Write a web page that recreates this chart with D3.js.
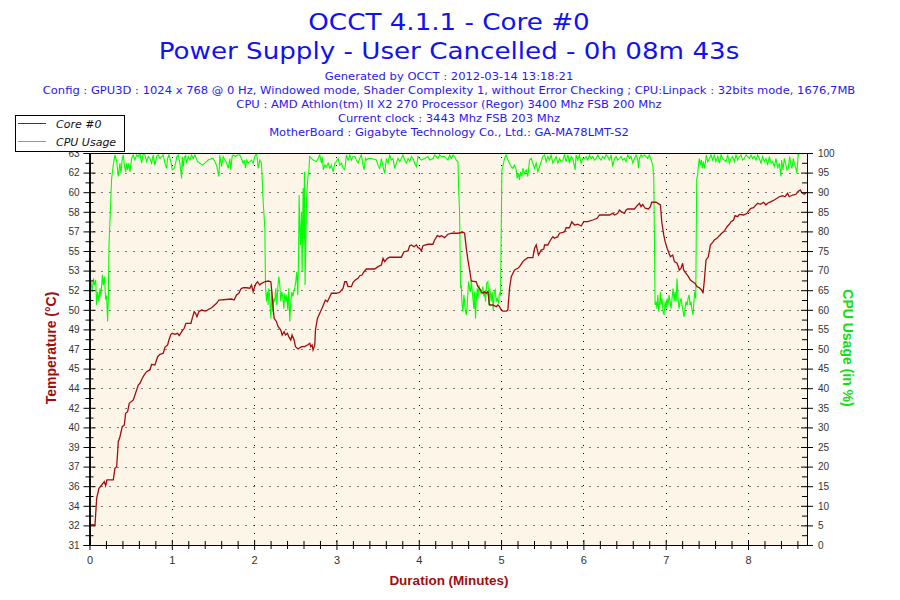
<!DOCTYPE html>
<html>
<head>
<meta charset="utf-8">
<script src="https://cdn.jsdelivr.net/npm/d3@7"></script>
<style>
  html, body { margin: 0; padding: 0; background: #ffffff; }
  svg { display: block; }
</style>
</head>
<body>
<svg id="chart" width="900" height="600"></svg>
<script>
// ---------------- DATA ----------------
const titleLines = ["OCCT 4.1.1 - Core #0", "Power Supply - User Cancelled - 0h 08m 43s"];
const infoLines = [
  "Generated by OCCT : 2012-03-14 13:18:21",
  "Config : GPU3D : 1024 x 768 @ 0 Hz, Windowed mode, Shader Complexity 1, without Error Checking ; CPU:Linpack : 32bits mode, 1676,7MB",
  "CPU : AMD Athlon(tm) II X2 270 Processor (Regor) 3400 Mhz FSB 200 Mhz",
  "Current clock : 3443 Mhz FSB 203 Mhz",
  "MotherBoard : Gigabyte Technology Co., Ltd.: GA-MA78LMT-S2"
];
const seriesNames = ["Core #0", "CPU Usage"];
const durationMinutes = 8.7167; // 0h 08m 43s
const xTickValues = [0, 1, 2, 3, 4, 5, 6, 7, 8];
const tempDomain = [31, 63];
const tempTickLabels = ["31","32","34","36","37","39","40","42","44","45","47","49","50","52","53","55","57","58","60","62","63"];
const cpuTickValues = [0,5,10,15,20,25,30,35,40,45,50,55,60,65,70,75,80,85,90,95,100];

// Core #0 temperature: [minutes, °C]
const coreTemp = [
[0.006,32.69],[0.067,32.63],[0.087,34.81],[0.115,35.63],[0.148,35.90],[0.180,36.17],[0.196,35.84],[0.212,36.31],[0.289,36.31],[0.309,37.26],[0.330,37.39],[0.350,39.43],[0.370,39.84],[0.398,40.66],[0.423,40.80],[0.439,41.75],[0.463,41.88],[0.483,42.57],[0.532,42.84],[0.552,43.24],[0.593,44.06],[0.613,44.20],[0.641,44.61],[0.665,44.88],[0.694,45.15],[0.734,45.29],[0.755,45.75],[0.795,45.69],[0.828,46.37],[0.856,46.56],[0.896,46.65],[0.916,47.14],[0.949,47.33],[0.965,47.73],[0.989,48.20],[1.005,48.28],[1.038,48.20],[1.070,48.28],[1.090,48.09],[1.119,48.41],[1.151,48.69],[1.171,49.10],[1.232,49.10],[1.248,49.50],[1.272,50.05],[1.289,49.91],[1.305,49.64],[1.329,50.05],[1.361,50.18],[1.410,50.10],[1.483,50.37],[1.544,50.73],[1.572,51.00],[1.725,51.08],[1.757,51.00],[1.786,51.41],[1.814,51.55],[1.839,51.90],[1.866,52.00],[1.908,52.00],[1.948,51.96],[1.968,52.22],[1.988,51.68],[2.017,52.28],[2.041,52.49],[2.069,52.22],[2.090,52.36],[2.130,52.49],[2.170,52.55],
[2.203,52.49],[2.219,51.41],[2.231,50.32],[2.243,49.50],[2.272,49.23],[2.292,48.82],[2.324,48.55],[2.340,48.14],[2.364,48.41],[2.381,48.14],[2.405,48.28],[2.421,48.01],[2.445,47.73],[2.461,48.14],[2.486,47.73],[2.502,47.19],[2.534,47.00],[2.575,47.19],[2.615,47.19],[2.648,47.33],[2.676,47.46],[2.688,47.19],[2.704,47.33],[2.716,46.92],[2.737,47.33],[2.745,48.55],[2.769,49.50],[2.797,49.91],[2.825,50.32],[2.850,50.73],[2.866,51.00],[2.890,50.86],[2.919,51.27],[2.939,51.55],[3.000,51.55],[3.040,51.63],[3.080,51.95],[3.101,52.49],[3.121,52.49],[3.141,52.09],[3.182,52.09],[3.202,52.44],[3.230,52.63],[3.262,52.77],[3.283,52.98],[3.311,53.04],[3.335,53.31],[3.364,53.53],[3.465,53.53],[3.505,53.72],[3.546,53.86],[3.566,54.40],[3.586,54.13],[3.619,54.40],[3.647,54.49],[3.789,54.49],[3.820,54.94],[3.869,55.00],[3.890,55.43],[3.910,55.49],[3.942,55.35],[3.971,55.49],[3.991,55.27],[4.011,55.22],[4.032,55.00],[4.051,55.43],[4.112,55.55],[4.172,55.55],[4.193,55.90],[4.226,56.25],[4.254,56.17],[4.275,56.25],[4.314,56.09],[4.354,56.37],
[4.403,56.45],[4.476,56.45],[4.537,56.53],[4.557,56.45],[4.578,55.22],[4.597,54.27],[4.618,53.45],[4.638,52.55],[4.699,52.49],[4.718,52.09],[4.739,51.95],[4.760,51.68],[4.779,51.55],[4.800,51.68],[4.820,51.55],[4.840,51.68],[4.860,50.59],[4.900,50.59],[4.942,50.46],[4.961,50.59],[4.982,50.46],[5.002,50.18],[5.022,50.10],[5.063,50.10],[5.082,50.18],[5.103,51.95],[5.124,52.90],[5.164,53.45],[5.204,53.59],[5.225,53.72],[5.265,54.13],[5.285,54.27],[5.325,54.46],[5.386,54.46],[5.407,55.22],[5.427,55.49],[5.455,54.67],[5.488,55.08],[5.519,55.16],[5.528,55.49],[5.568,55.49],[5.601,55.90],[5.629,56.17],[5.649,56.04],[5.689,56.17],[5.710,56.45],[5.750,56.53],[5.771,56.58],[5.791,56.90],[5.831,56.90],[5.859,57.39],[5.892,57.12],[5.932,57.18],[5.973,57.04],[6.005,57.39],[6.053,57.39],[6.114,57.53],[6.167,57.67],[6.195,57.94],[6.317,57.94],[6.357,58.08],[6.378,57.94],[6.417,58.08],[6.438,58.35],[6.459,58.21],[6.499,58.08],
[6.519,58.35],[6.539,58.43],[6.620,58.43],[6.653,58.70],[6.681,58.89],[6.701,58.62],[6.721,58.81],[6.750,58.49],[6.790,58.43],[6.814,58.62],[6.830,58.98],[6.883,58.98],[6.924,58.81],[6.936,58.76],[6.952,57.39],[6.976,56.31],[6.993,55.76],[7.017,55.22],[7.033,54.94],[7.057,54.53],[7.085,54.67],[7.106,54.13],[7.138,54.00],[7.166,53.45],[7.187,53.59],[7.206,54.00],[7.218,53.45],[7.247,53.18],[7.276,52.90],[7.300,52.63],[7.328,52.49],[7.357,52.36],[7.381,52.09],[7.409,52.00],[7.437,51.82],[7.454,51.55],[7.470,52.63],[7.490,54.27],[7.518,54.53],[7.543,55.49],[7.571,55.71],[7.591,55.90],[7.624,56.04],[7.652,56.25],[7.680,56.45],[7.713,56.63],[7.745,56.98],[7.773,57.18],[7.794,57.39],[7.825,57.53],[7.842,57.88],[7.874,57.80],[7.894,57.99],[7.947,57.94],[7.988,58.08],[8.016,58.35],[8.036,58.49],[8.068,58.53],[8.097,58.76],[8.117,58.90],[8.149,58.81],[8.189,58.98],[8.218,58.76],[8.238,58.90],[8.279,59.03],[8.319,59.16],[8.352,59.30],[8.380,59.43],[8.420,59.51],[8.449,59.43],[8.481,59.71],[8.501,59.43],[8.541,59.57],[8.583,59.63],[8.604,59.84],[8.635,59.98],[8.651,59.80],[8.683,59.63],[8.704,59.71]
];

// CPU usage: [minutes, %]
const cpuUsage = [
[0.006,65.1],[0.018,67.2],[0.034,64.6],[0.047,68.0],[0.059,66.3],[0.075,67.6],[0.087,61.2],[0.099,64.6],[0.115,62.1],[0.127,65.5],[0.140,63.4],[0.156,68.9],[0.168,66.3],[0.180,68.5],[0.196,62.9],[0.208,63.4],[0.220,57.0],[0.229,62.9],[0.237,76.5],[0.253,85.0],[0.269,93.5],[0.289,96.9],[0.309,99.5],[0.330,97.8],[0.342,95.7],[0.350,94.0],[0.370,97.4],[0.382,94.8],[0.398,98.6],[0.411,99.5],[0.423,96.9],[0.439,95.2],[0.451,97.4],[0.463,95.7],[0.479,97.4],[0.491,95.2],[0.512,98.6],[0.532,99.5],[0.552,98.2],[0.572,99.5],[0.593,99.1],[0.613,99.9],[0.633,97.4],[0.653,99.9],[0.674,99.5],[0.694,97.8],[0.714,99.1],[0.734,98.6],[0.755,97.4],[0.775,99.5],[0.795,96.9],[0.815,99.1],[0.835,99.5],[0.856,98.6],[0.876,99.1],[0.896,99.5],[0.916,97.4],[0.936,96.1],[0.949,98.6],[0.965,99.5],[0.989,97.8],[1.005,95.7],[1.030,96.1],[1.046,97.4],[1.062,99.1],[1.078,99.5],[1.098,97.4],[1.119,93.5],[1.127,99.1],[1.139,96.5],[1.151,98.6],[1.167,99.5],[1.179,97.4],[1.199,99.1],[1.220,98.2],[1.240,99.5],[1.260,98.6],[1.280,99.5],[1.313,97.8],[1.341,97.4],[1.369,96.9],[1.402,97.4],[1.442,98.2],[1.483,98.6],[1.503,98.6],[1.523,97.8],[1.543,96.9],[1.563,94.8],[1.572,94.0],[1.584,99.5],[1.604,96.5],[1.624,99.1],[1.644,98.2],[1.665,97.4],[1.685,96.1],[1.705,98.6],[1.717,95.7],[1.733,99.1],[1.745,99.5],[1.774,99.1],[1.798,99.5],[1.826,99.5],[1.847,98.6],[1.867,97.4],[1.879,98.2],[1.895,96.1],[1.911,98.2],[1.927,97.4],[1.948,97.8],[1.968,98.2],[1.988,97.4],[2.008,99.1],[2.029,99.9],[2.041,98.2],[2.049,96.1],[2.069,98.2],[2.089,97.4],[2.110,87.6],[2.130,80.8],[2.138,66.3],[2.150,62.1],[2.162,64.6],[2.170,61.2],[2.178,65.5],[2.190,62.9],
[2.203,57.8],[2.215,64.6],[2.227,59.5],[2.239,62.9],[2.251,62.1],[2.263,65.5],[2.276,61.2],[2.288,65.9],[2.300,68.5],[2.312,66.3],[2.324,62.1],[2.336,64.6],[2.348,63.4],[2.361,60.3],[2.373,64.2],[2.385,62.1],[2.397,63.8],[2.409,59.9],[2.421,65.5],[2.433,57.0],[2.446,62.1],[2.458,64.6],[2.470,63.4],[2.482,64.6],[2.494,65.5],[2.506,67.2],[2.518,69.7],[2.530,63.8],[2.539,72.3],[2.547,89.3],[2.555,80.8],[2.563,76.5],[2.575,85.0],[2.583,69.7],[2.595,91.0],[2.603,78.2],[2.611,95.2],[2.619,66.3],[2.628,76.5],[2.636,87.2],[2.644,91.0],[2.652,93.5],[2.664,95.2],[2.676,99.1],[2.717,98.2],[2.757,97.8],[2.777,98.6],[2.797,99.5],[2.818,97.4],[2.826,99.1],[2.842,95.7],[2.858,96.9],[2.878,96.5],[2.899,97.4],[2.919,96.1],[2.939,96.9],[2.959,95.2],[2.980,97.4],[3.000,97.8],[3.020,98.6],[3.040,96.9],[3.060,97.4],[3.081,96.1],[3.101,95.7],[3.121,99.5],[3.141,98.2],[3.162,99.5],[3.182,98.2],[3.202,99.1],[3.222,99.1],[3.242,98.2],[3.263,97.4],[3.283,98.6],[3.303,99.5],[3.323,96.9],[3.336,95.7],[3.352,98.6],[3.364,98.2],[3.384,98.6],[3.424,98.6],[3.485,98.2],[3.505,96.9],[3.526,96.1],[3.546,98.6],[3.566,96.5],[3.586,94.8],[3.607,98.6],[3.627,97.4],[3.647,99.5],[3.667,98.2],[3.687,98.6],[3.708,96.1],[3.728,97.4],[3.748,98.6],[3.768,97.8],[3.789,98.6],[3.809,99.5],[3.829,98.2],[3.849,97.4],[3.870,98.6],[3.890,97.8],[3.910,99.1],[3.930,98.6],[3.950,97.4],[3.971,96.5],[3.991,99.1],[4.011,98.6],[4.031,98.2],[4.072,98.6],[4.112,99.1],[4.132,98.2],[4.173,98.6],[4.193,99.5],[4.213,99.1],[4.234,98.6],[4.254,99.5],[4.274,99.1],[4.314,99.1],
[4.334,98.6],[4.354,98.2],[4.375,99.5],[4.395,98.6],[4.415,99.5],[4.435,99.1],[4.456,98.2],[4.476,97.8],[4.484,91.0],[4.496,85.0],[4.508,65.5],[4.516,66.3],[4.524,62.1],[4.536,59.5],[4.549,63.8],[4.565,59.9],[4.577,58.7],[4.589,61.2],[4.605,67.2],[4.617,65.5],[4.630,64.6],[4.638,67.6],[4.658,62.9],[4.670,60.3],[4.678,64.6],[4.690,57.8],[4.698,62.1],[4.710,65.5],[4.719,62.9],[4.731,66.3],[4.743,64.6],[4.759,64.2],[4.779,65.9],[4.791,63.4],[4.799,64.6],[4.812,62.1],[4.824,66.8],[4.840,67.2],[4.852,61.2],[4.864,65.5],[4.880,62.1],[4.892,64.6],[4.905,59.9],[4.917,64.6],[4.929,65.1],[4.941,62.1],[4.953,62.9],[4.969,61.6],[4.981,64.2],[4.994,63.8],[5.002,80.3],[5.010,95.7],[5.022,96.5],[5.042,98.6],[5.062,99.5],[5.083,98.2],[5.103,97.4],[5.123,96.5],[5.143,96.1],[5.163,96.9],[5.184,95.7],[5.196,93.5],[5.212,94.8],[5.224,93.1],[5.236,95.2],[5.252,94.0],[5.265,96.1],[5.285,94.8],[5.305,95.7],[5.325,94.0],[5.346,98.2],[5.366,98.6],[5.386,97.4],[5.406,96.1],[5.426,97.4],[5.447,95.2],[5.467,96.5],[5.487,97.8],[5.507,99.1],[5.528,99.5],[5.548,97.8],[5.568,99.1],[5.588,98.2],[5.608,99.5],[5.629,97.4],[5.649,98.2],[5.669,99.1],[5.689,97.4],[5.710,98.6],[5.730,97.8],[5.750,98.2],[5.770,99.5],[5.791,97.8],[5.811,99.5],[5.831,97.4],[5.851,99.1],[5.871,98.6],[5.900,95.7],[5.912,99.5],[5.932,98.2],[5.952,99.5],[5.973,97.4],[5.993,98.6],[6.013,98.6],[6.033,99.1],[6.053,98.2],[6.074,99.5],[6.094,98.6],[6.114,99.1],[6.134,98.2],[6.155,98.6],[6.175,99.5],[6.195,98.6],[6.215,98.2],[6.236,99.1],[6.256,98.6],[6.276,99.5],[6.296,99.1],[6.316,98.2],[6.337,99.5],[6.357,96.5],[6.377,98.6],[6.397,99.1],[6.418,98.2],[6.438,98.6],[6.458,99.1],[6.478,98.2],[6.498,98.6],
[6.519,97.8],[6.539,99.5],[6.560,98.6],[6.580,99.1],[6.600,97.4],[6.620,98.6],[6.641,99.5],[6.661,98.2],[6.669,96.1],[6.681,98.6],[6.701,99.5],[6.721,99.1],[6.742,99.5],[6.762,99.1],[6.782,98.6],[6.802,99.5],[6.823,98.2],[6.843,96.9],[6.855,93.5],[6.863,78.2],[6.871,61.2],[6.883,62.1],[6.895,60.3],[6.904,63.8],[6.916,59.5],[6.928,62.1],[6.936,64.6],[6.944,61.2],[6.956,62.9],[6.968,59.5],[6.980,58.7],[6.993,62.1],[7.005,60.3],[7.017,62.9],[7.029,61.2],[7.041,63.8],[7.053,62.1],[7.065,60.3],[7.077,62.9],[7.090,65.5],[7.102,62.1],[7.114,64.6],[7.126,62.1],[7.138,68.0],[7.150,62.9],[7.162,60.3],[7.175,62.1],[7.187,62.9],[7.199,61.2],[7.211,59.5],[7.223,58.2],[7.235,60.3],[7.247,62.1],[7.260,61.2],[7.272,62.9],[7.284,63.8],[7.296,61.2],[7.308,62.1],[7.320,59.9],[7.332,58.7],[7.340,61.2],[7.353,64.6],[7.365,62.9],[7.377,93.5],[7.389,94.4],[7.397,96.9],[7.409,98.6],[7.421,96.9],[7.433,98.2],[7.446,96.1],[7.458,97.8],[7.470,96.1],[7.482,97.4],[7.494,99.5],[7.510,97.8],[7.531,98.6],[7.551,99.5],[7.571,98.2],[7.591,99.5],[7.611,97.8],[7.632,99.1],[7.652,97.4],[7.672,99.5],[7.692,98.6],[7.713,98.2],[7.733,97.8],[7.753,99.5],[7.773,97.4],[7.793,98.6],[7.814,99.1],[7.834,97.8],[7.854,99.5],[7.874,98.2],[7.895,99.1],[7.915,99.5],[7.935,98.2],[7.955,98.6],[7.976,99.5],[7.996,99.1],[8.016,98.6],[8.036,99.5],[8.056,98.6],[8.077,99.1],[8.097,98.2],[8.117,99.5],[8.137,98.6],[8.158,97.4],[8.178,99.1],[8.198,97.8],[8.218,98.6],[8.238,96.9],[8.259,99.1],[8.279,97.4],[8.299,97.8],[8.319,96.5],[8.340,98.6],[8.360,96.1],[8.380,97.4],[8.400,94.0],[8.408,98.2],[8.425,95.7],[8.441,98.6],[8.461,96.9],[8.473,95.7],[8.489,96.1],[8.505,99.1],[8.522,96.9],[8.534,96.1],[8.550,98.6],[8.562,97.4],[8.582,96.1],[8.594,94.8],[8.603,97.8],[8.611,99.9],[8.623,99.5]
];

// ---------------- DRAW ----------------
const svg = d3.select("#chart");
const plot = { left: 89.5, right: 807, top: 153, bottom: 545 };
const tempColor = "#a00e0e", cpuColor = "#00ff00";
const titleColor = "#1212f0", infoColor = "#2a1ae8";

// Verdana is wider than DejaVu Sans: stretch text horizontally to match
function widen(sel, k) {
  sel.each(function () {
    const w = this.getComputedTextLength();
    d3.select(this).attr("textLength", w * k).attr("lengthAdjust", "spacingAndGlyphs");
  });
}

const x = d3.scaleLinear().domain([0, durationMinutes]).range([plot.left, plot.right]);
const yTemp = d3.scaleLinear().domain(tempDomain).range([plot.bottom, plot.top]);
const yCpu = d3.scaleLinear().domain([0, 100]).range([plot.bottom, plot.top]);

svg.append("rect").attr("width", 900).attr("height", 600).attr("fill", "#ffffff");

// Titles
svg.selectAll("text.title").data(titleLines).join("text")
  .attr("class", "title")
  .attr("x", 449).attr("y", (d, i) => 30 + i * 29)
  .attr("text-anchor", "middle")
  .attr("font-family", "'DejaVu Sans', Verdana, sans-serif")
  .attr("font-size", 23.5)
  .attr("fill", titleColor)
  .text(d => d)
  .call(widen, 1.113);

svg.selectAll("text.info").data(infoLines).join("text")
  .attr("class", "info")
  .attr("x", 449).attr("y", (d, i) => 80 + i * 14)
  .attr("text-anchor", "middle")
  .attr("font-family", "'DejaVu Sans', Verdana, sans-serif")
  .attr("font-size", 11)
  .attr("fill", infoColor)
  .text(d => d)
  .call(widen, 1.048);

// Plot background
svg.append("rect")
  .attr("x", plot.left).attr("y", plot.top)
  .attr("width", plot.right - plot.left).attr("height", plot.bottom - plot.top)
  .attr("fill", "#fdf6e8");

// Grid (dotted)
const majorTemp = d3.range(21).map(i => tempDomain[0] + i * (tempDomain[1] - tempDomain[0]) / 20);
const grid = svg.append("g").attr("stroke", "#000").attr("stroke-width", 1).attr("stroke-dasharray", "1,7");
grid.selectAll("line.h").data(cpuTickValues.slice(1, -1)).join("line")
  .attr("x1", plot.left + 4).attr("x2", plot.right)
  .attr("y1", d => Math.round(yCpu(d)) + 0.5).attr("y2", d => Math.round(yCpu(d)) + 0.5);
grid.selectAll("line.v").data(xTickValues.slice(1)).join("line")
  .attr("y1", plot.top + 4).attr("y2", plot.bottom)
  .attr("x1", d => Math.round(x(d)) + 0.5).attr("x2", d => Math.round(x(d)) + 0.5);

// Clip
svg.append("clipPath").attr("id", "clip").append("rect")
  .attr("x", plot.left).attr("y", plot.top)
  .attr("width", plot.right - plot.left).attr("height", plot.bottom - plot.top);

// Lines
const cpuLine = d3.line().x(d => x(d[0])).y(d => yCpu(d[1]));
const tempLine = d3.line().x(d => x(d[0])).y(d => yTemp(d[1]));
svg.append("path").datum(cpuUsage)
  .attr("clip-path", "url(#clip)")
  .attr("fill", "none").attr("stroke", cpuColor).attr("stroke-width", 1.1)
  .attr("d", cpuLine);
svg.append("path").datum(coreTemp)
  .attr("clip-path", "url(#clip)")
  .attr("fill", "none").attr("stroke", tempColor).attr("stroke-width", 1.3)
  .attr("d", tempLine);

// Frame (top border)
svg.append("line").attr("x1", plot.left).attr("x2", plot.right)
  .attr("y1", plot.top + 0.5).attr("y2", plot.top + 0.5).attr("stroke", "#000");

// Axes helpers
function styleAxis(g, labels) {
  g.select(".domain").attr("stroke", "#000");
  g.selectAll(".tick line").attr("stroke", "#000");
  g.selectAll(".tick text")
    .attr("fill", "#333")
    .attr("font-family", "'Liberation Sans', Arial, sans-serif")
    .attr("font-size", 10);
  if (!labels) g.selectAll(".tick text").remove();
}
const minorTemp = d3.range(20).map(i => tempDomain[0] + (i + 0.5) * (tempDomain[1] - tempDomain[0]) / 20);
const minorCpu = d3.range(20).map(i => 2.5 + i * 5);
const minorX = d3.range(0, durationMinutes, 0.2).filter(v => Math.abs(v - Math.round(v)) > 0.01);

// Left axis (temperature)
const gl = svg.append("g").attr("transform", `translate(${plot.left},0)`);
gl.call(d3.axisLeft(yTemp).tickValues(majorTemp).tickSize(6).tickPadding(4)
  .tickFormat((d, i) => tempTickLabels[i]));
styleAxis(gl, true);
const gl2 = svg.append("g").attr("transform", `translate(${plot.left},0)`);
gl2.call(d3.axisRight(yTemp).tickValues(majorTemp).tickSize(6).tickSizeOuter(0));
styleAxis(gl2, false);
const gl3 = svg.append("g").attr("transform", `translate(${plot.left},0)`);
gl3.call(d3.axisLeft(yTemp).tickValues(minorTemp).tickSize(4).tickSizeOuter(0));
styleAxis(gl3, false);
const gl4 = svg.append("g").attr("transform", `translate(${plot.left},0)`);
gl4.call(d3.axisRight(yTemp).tickValues(minorTemp).tickSize(4).tickSizeOuter(0));
styleAxis(gl4, false);

// Right axis (CPU)
const gr = svg.append("g").attr("transform", `translate(${plot.right},0)`);
gr.call(d3.axisRight(yCpu).tickValues(cpuTickValues).tickSize(6).tickPadding(5).tickFormat(d3.format("d")));
styleAxis(gr, true);
const gr2 = svg.append("g").attr("transform", `translate(${plot.right},0)`);
gr2.call(d3.axisLeft(yCpu).tickValues(cpuTickValues).tickSize(6).tickSizeOuter(0));
styleAxis(gr2, false);
const gr3 = svg.append("g").attr("transform", `translate(${plot.right},0)`);
gr3.call(d3.axisLeft(yCpu).tickValues(minorCpu).tickSize(5).tickSizeOuter(0));
styleAxis(gr3, false);

// Bottom axis
const gb = svg.append("g").attr("transform", `translate(0,${plot.bottom})`);
gb.call(d3.axisBottom(x).tickValues(xTickValues).tickSize(5).tickPadding(6).tickSizeOuter(0).tickFormat(d3.format("d")));
styleAxis(gb, true);
gb.selectAll(".tick text").attr("font-family", "'Liberation Sans Narrow', 'Liberation Sans', sans-serif").attr("font-size", 11);
const gb2 = svg.append("g").attr("transform", `translate(0,${plot.bottom})`);
gb2.call(d3.axisTop(x).tickValues(xTickValues).tickSize(5).tickSizeOuter(0));
styleAxis(gb2, false);
const gb3 = svg.append("g").attr("transform", `translate(0,${plot.bottom})`);
gb3.call(d3.axisBottom(x).tickValues(minorX).tickSize(4).tickSizeOuter(0));
styleAxis(gb3, false);
const gb4 = svg.append("g").attr("transform", `translate(0,${plot.bottom})`);
gb4.call(d3.axisTop(x).tickValues(minorX).tickSize(4).tickSizeOuter(0));
styleAxis(gb4, false);

// Axis titles
const axisFont = "'Liberation Sans Narrow', 'Liberation Sans', Arial, sans-serif";
svg.append("text").attr("x", 449).attr("y", 585)
  .attr("text-anchor", "middle").attr("font-family", axisFont)
  .attr("font-weight", "bold").attr("font-size", 13.5).attr("fill", tempColor)
  .text("Duration (Minutes)");
svg.append("text").attr("transform", "translate(56,348) rotate(-90)")
  .attr("text-anchor", "middle").attr("font-family", axisFont)
  .attr("font-weight", "bold").attr("font-size", 14).attr("fill", tempColor)
  .text("Temperature (°C)");
svg.append("text").attr("transform", "translate(843,348) rotate(90)")
  .attr("text-anchor", "middle").attr("font-family", axisFont)
  .attr("font-weight", "bold").attr("font-size", 14).attr("fill", "#10e010")
  .text("CPU Usage (in %)");

// Legend
const legend = svg.append("g");
legend.append("rect").attr("x", 15.5).attr("y", 115.5).attr("width", 109).attr("height", 36)
  .attr("fill", "#ffffff").attr("stroke", "#000").attr("stroke-width", 1);
const legColors = [tempColor, cpuColor];
const li = legend.selectAll("g.item").data(seriesNames).join("g").attr("class", "item")
  .attr("transform", (d, i) => `translate(0,${123.5 + i * 18})`);
li.append("line").attr("x1", 18).attr("x2", 46).attr("y1", 0).attr("y2", 0)
  .attr("stroke", (d, i) => legColors[i]).attr("stroke-width", 1);
li.append("text").attr("x", 56).attr("y", 4)
  .attr("font-family", "'DejaVu Sans', Verdana, sans-serif")
  .attr("font-style", "italic").attr("font-size", 11).attr("fill", "#111")
  .text(d => d);
</script>
</body>
</html>
